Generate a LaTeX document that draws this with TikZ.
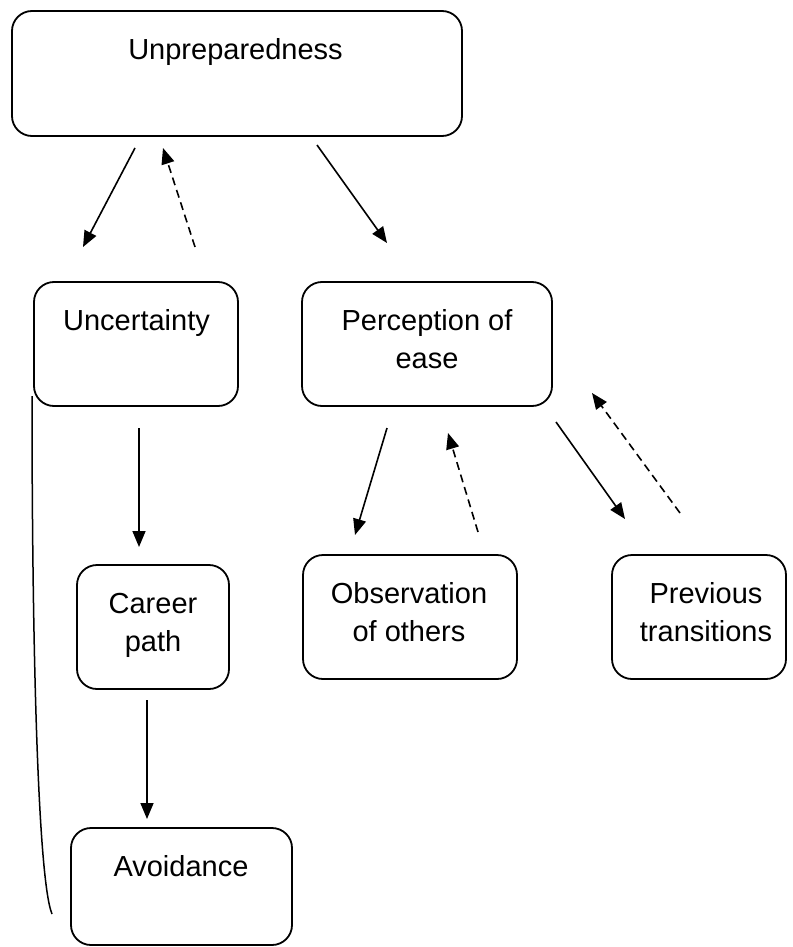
\documentclass[tikz,border=0pt]{standalone}
\usepackage{fontspec}
\setmainfont{Liberation Sans}
\usetikzlibrary{arrows.meta}
\begin{document}
\begin{tikzpicture}[x=1pt,y=-1pt,
  box/.style={draw, line width=1.8pt, rounded corners=20pt, inner sep=0pt},
  lbl/.style={anchor=north, inner sep=0pt, align=center, font=\fontsize{29}{38}\selectfont},
  arr/.style={line width=1.6pt, -{Triangle[length=16pt,width=13pt]}},
  darr/.style={arr, dash pattern=on 8pt off 5pt},
]
\useasboundingbox (0,0) rectangle (792,947);

% boxes
\node[box, minimum width=450pt, minimum height=125pt] (unp) at (237,73.5) {};
\node[box, minimum width=204pt, minimum height=124pt] (unc) at (136,344) {};
\node[box, minimum width=250pt, minimum height=124pt] (per) at (427,344) {};
\node[box, minimum width=152pt, minimum height=124pt] (car) at (153,627) {};
\node[box, minimum width=214pt, minimum height=124pt] (obs) at (410,617) {};
\node[box, minimum width=174pt, minimum height=124pt] (prev) at (699,617) {};
\node[box, minimum width=221pt, minimum height=117pt] (avo) at (181.5,886.5) {};

% texts
\node[lbl] (unpT) at (235.5,32.4) {\strut Unpreparedness};
\node[lbl] (uncT) at (136.5,303.4) {\strut Uncertainty};
\node[lbl] (perT) at (427,303.4) {\strut Perception of\\\strut ease};
\node[lbl] (carT) at (153,586.4) {\strut Career\\\strut path};
\node[lbl] (obsT) at (409,576.4) {\strut Observation\\\strut of others};
\node[lbl] (prevT) at (706,576.4) {\strut Previous\\\strut transitions};
\node[lbl] (avoT) at (181,849.4) {\strut Avoidance};

% arrow end points
\coordinate (a1s) at (135,148); \coordinate (a1e) at (83,247);
\coordinate (a2s) at (195,247); \coordinate (a2e) at (163,148);
\coordinate (a3s) at (317,145); \coordinate (a3e) at (387,243);
\coordinate (a4s) at (139,428); \coordinate (a4e) at (139,547);
\coordinate (a5s) at (147,700); \coordinate (a5e) at (147,819);
\coordinate (a6s) at (387,428); \coordinate (a6e) at (355,535);
\coordinate (a7s) at (478,532); \coordinate (a7e) at (448,433);
\coordinate (a8s) at (556,422); \coordinate (a8e) at (625,519);
\coordinate (a9s) at (680,513); \coordinate (a9e) at (592,393);
\coordinate (c1) at (32,396); \coordinate (c2) at (52,914);

\draw[arr] (a1s) -- (a1e);
\draw[darr] (a2s) -- (a2e);
\draw[arr] (a3s) -- (a3e);
\draw[arr] (a4s) -- (a4e);
\draw[arr] (a5s) -- (a5e);
\draw[arr] (a6s) -- (a6e);
\draw[darr] (a7s) -- (a7e);
\draw[arr] (a8s) -- (a8e);
\draw[darr] (a9s) -- (a9e);

\draw[line width=1.5pt] (c1) .. controls (32,650) and (38,880) .. (c2);
\end{tikzpicture}
\end{document}
